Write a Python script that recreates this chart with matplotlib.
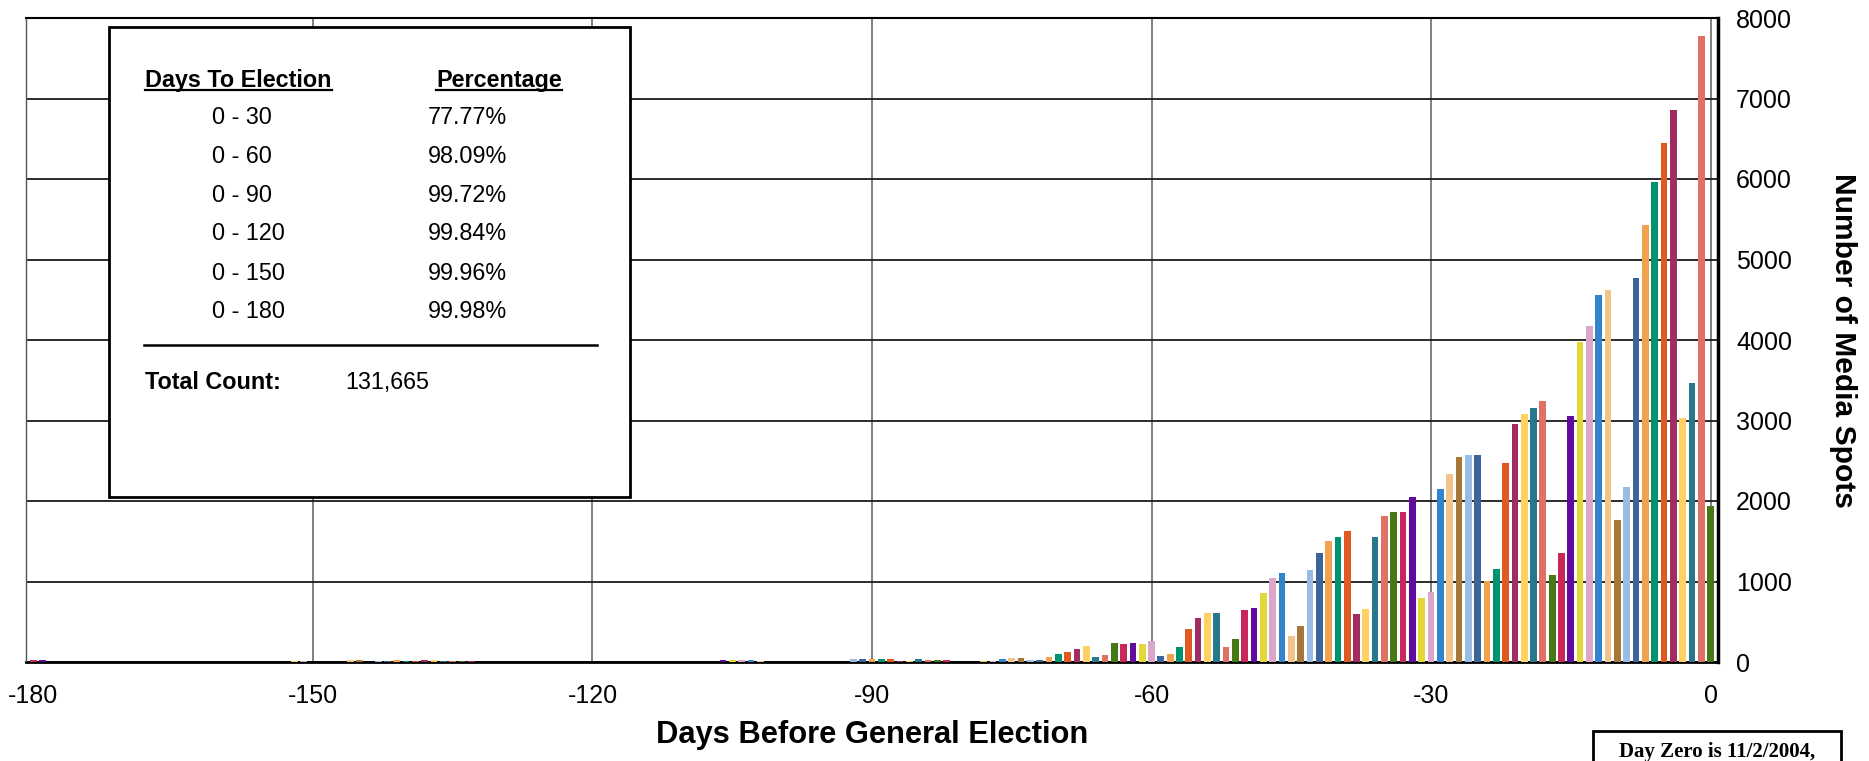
import matplotlib
matplotlib.use("Agg")
import matplotlib.pyplot as plt
from matplotlib.patches import Rectangle
from matplotlib.lines import Line2D

plt.rcParams["font.family"] = ["Liberation Sans", "DejaVu Sans"]
plt.rcParams["axes.unicode_minus"] = False

# Media spots per day before the election (day 0 = 11/2/2004)
days = [-181, -180, -179, -152, -151, -148, -146, -145, -143, -142, -141, -140,
        -139, -138, -137, -136, -135, -134, -133,
        -106, -105, -104, -103, -102, -100,
        -92, -91, -90, -89, -88, -87, -86, -85, -84, -83, -82, -80] + list(range(-78, 1))

spots = [20, 20, 20, 15, 15, 0, 20, 30, 10, 12, 20, 15,
         15, 30, 20, 12, 8, 12, 18,
         25, 25, 25, 25, 12, 6,
         37, 37, 37, 37, 37, 12, 12, 37, 25, 25, 25, 0,
         # -78 .. -60
         12, 12, 37, 50, 50, 25, 25, 62, 99, 124, 161, 199, 62, 89, 238, 226, 238, 226, 262,
         # -59 .. -30
         78, 104, 190, 414, 550, 611, 611, 190, 290, 650, 672, 860, 1045, 1106, 326,
         450, 1145, 1355, 1504, 1554, 1628, 600, 661, 1554, 1814, 1864, 1864, 2050, 800, 874,
         # -29 .. 0
         2152, 2341, 2551, 2577, 2566, 1003, 1160, 2476, 2960, 3083, 3160, 3246, 1076, 1350, 3062,
         3977, 4176, 4563, 4624, 1761, 2180, 4775, 5431, 5963, 6443, 6855, 3035, 3460, 7778, 1934]

x_ticks = [-180, -150, -120, -90, -60, -30, 0]
y_ticks = [0, 1000, 2000, 3000, 4000, 5000, 6000, 7000, 8000]

ranges = ["0 - 30", "0 - 60", "0 - 90", "0 - 120", "0 - 150", "0 - 180"]
shares = ["77.77%", "98.09%", "99.72%", "99.84%", "99.96%", "99.98%"]
total_count = "131,665"

# Excel "vary colours by point" palette, cycle restarts at these days
palette = ["#F0A24F", "#00936F", "#DE5A20", "#A02C62", "#FFD062", "#27788A",
           "#DF7264", "#467816", "#C8275A", "#600A9E", "#E3D73A", "#DCA5CA",
           "#3483CE", "#F2C489", "#A67838", "#98BCE4", "#3B6599"]
cycle_restart = {-181: 7, -59: 16}

bar_colors = []
k = 0
for d in days:
    if d in cycle_restart:
        k = cycle_restart[d]
    bar_colors.append(palette[k % len(palette)])
    k += 1

W, H = 1869, 761


def fx(px):
    return px / W


def fy(py):
    return 1 - py / H


fig = plt.figure(figsize=(W / 100, H / 100), dpi=100)
ax = fig.add_axes([fx(26), fy(662), fx(1718) - fx(26), fy(18) - fy(662)])

ax.bar(days, spots, width=0.72, color=bar_colors, linewidth=0, zorder=3)

ax.set_xlim(-180.8, 0.8)
ax.set_ylim(0, 8000)
ax.set_xticks(x_ticks)
ax.set_yticks(y_ticks)
ax.yaxis.tick_right()
ax.yaxis.set_label_position("right")
ax.tick_params(axis="x", length=0, pad=16, labelsize=18)
ax.tick_params(axis="y", length=0, pad=13, labelsize=18)

ax.set_axisbelow(True)
ax.grid(axis="y", color="#1a1a1a", linewidth=1.3)
ax.grid(axis="x", color="#6a6a6a", linewidth=1.2)
ax.get_xgridlines()[0].set_visible(False)

ax.spines["top"].set_linewidth(1.5)
ax.spines["right"].set_linewidth(2.5)
ax.spines["bottom"].set_linewidth(2)
ax.spines["left"].set_color("#555555")
ax.spines["left"].set_linewidth(1)

ax.set_xlabel("Days Before General Election", fontsize=22.2, fontweight="bold")
ax.xaxis.set_label_coords(0.5, -0.09)
ax.set_ylabel("Number of Media Spots", fontsize=21.6, fontweight="bold",
              rotation=270, va="center")
ax.yaxis.set_label_coords(1.074, 0.5)

# inset summary table
fig.add_artist(Rectangle((fx(109), fy(497)), fx(630) - fx(109), fy(27) - fy(497),
                         transform=fig.transFigure, facecolor="white",
                         edgecolor="black", linewidth=2, zorder=5))

h1 = fig.text(fx(145), fy(86.5), "Days To Election", fontsize=16.8, fontweight="bold",
              va="baseline", zorder=6)
h2 = fig.text(fx(436), fy(86.5), "Percentage", fontsize=16.8, fontweight="bold",
              va="baseline", zorder=6)

row_y = [124, 163, 201.5, 240.5, 280, 318]
for r, s, yy in zip(ranges, shares, row_y):
    fig.text(fx(212), fy(yy), r, fontsize=16.8, va="baseline", zorder=6)
    fig.text(fx(428), fy(yy), s, fontsize=16.8, va="baseline", zorder=6)

fig.add_artist(Line2D([fx(144), fx(597)], [fy(345), fy(345)], transform=fig.transFigure,
                      color="black", linewidth=1.8, zorder=6))
fig.text(fx(145), fy(389), "Total Count:", fontsize=16.8, fontweight="bold",
         va="baseline", zorder=6)
fig.text(fx(345), fy(389), total_count, fontsize=16.8, va="baseline", zorder=6)

# underline the table headers
fig.canvas.draw()
renderer = fig.canvas.get_renderer()
for t in (h1, h2):
    bb = t.get_window_extent(renderer)
    fig.add_artist(Line2D([bb.x0 / W, bb.x1 / W], [fy(89.5), fy(89.5)],
                          transform=fig.transFigure, color="black",
                          linewidth=1.6, zorder=6))

# note box, cut off at the bottom edge
fig.add_artist(Rectangle((fx(1593), fy(800)), fx(1841) - fx(1593), fy(731) - fy(800),
                         transform=fig.transFigure, facecolor="white",
                         edgecolor="black", linewidth=2, zorder=5))
fig.text(fx(1717), fy(757), "Day Zero is 11/2/2004,", fontsize=15, fontweight="bold",
         family=["Liberation Serif", "DejaVu Serif"], ha="center", va="baseline", zorder=6)

fig.savefig("out.png", dpi=100)
